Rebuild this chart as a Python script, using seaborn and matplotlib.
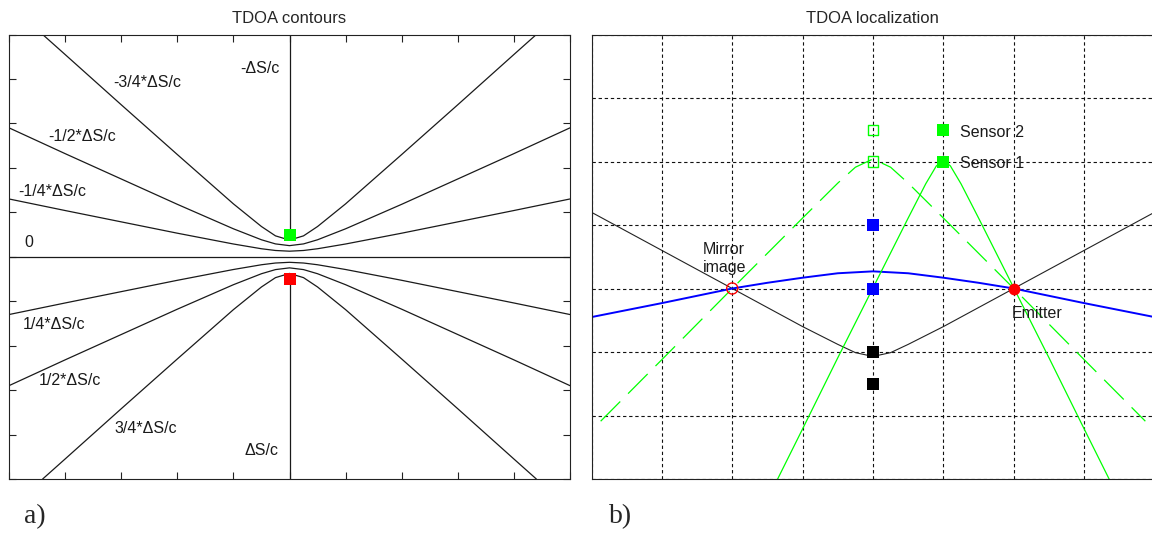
import numpy as np
import pandas as pd
import matplotlib
matplotlib.use("Agg")
from matplotlib import pyplot as plt
import seaborn as sns

# ---- panel a) TDOA contours (x, y in grid units) ----
xs_q = [-5, -4, -3, -2, -1, -0.5, -0.25, 0, 0.25, 0.5, 1, 2, 3, 4, 5]
y_quarter = [1.30, 1.04, 0.785, 0.53, 0.287, 0.18, 0.141, 0.125, 0.141, 0.18, 0.287, 0.53, 0.785, 1.04, 1.30]
y_half = [2.90, 2.32, 1.75, 1.18, 0.629, 0.382, 0.289, 0.25, 0.289, 0.382, 0.629, 1.18, 1.75, 2.32, 2.90]
xs_tq = [-4.4, -4, -3, -2, -1, -0.5, -0.25, 0, 0.25, 0.5, 1, 2, 3, 4, 4.4]
y_tq = [5.0, 4.55, 3.42, 2.30, 1.19, 0.68, 0.47, 0.375, 0.47, 0.68, 1.19, 2.30, 3.42, 4.55, 5.0]
y_quarter_lo = [-1.30, -1.04, -0.785, -0.53, -0.287, -0.18, -0.141, -0.125, -0.141, -0.18, -0.287, -0.53, -0.785, -1.04, -1.30]
y_half_lo = [-2.90, -2.32, -1.75, -1.18, -0.629, -0.382, -0.289, -0.25, -0.289, -0.382, -0.629, -1.18, -1.75, -2.32, -2.90]
y_tq_lo = [-5.0, -4.55, -3.42, -2.30, -1.19, -0.68, -0.47, -0.375, -0.47, -0.68, -1.19, -2.30, -3.42, -4.55, -5.0]
ray_up_y = [0.5, 5]
ray_dn_y = [-0.5, -5]
zero_x = [-5, 5]
sensor_a = (0, 0.5)
sensor_b = (0, -0.5)

contour_labels = ["-\u0394S/c", "-3/4*\u0394S/c", "-1/2*\u0394S/c", "-1/4*\u0394S/c", "0",
                  "1/4*\u0394S/c", "1/2*\u0394S/c", "3/4*\u0394S/c", "\u0394S/c"]
label_x = [-0.17, -3.15, -4.30, -4.83, -4.73, -4.76, -4.47, -3.12, -0.19]
label_y = [4.24, 3.91, 2.70, 1.46, 0.33, -1.52, -2.78, -3.87, -4.36]
label_ha = ["right", "left", "left", "left", "left", "left", "left", "left", "right"]

# ---- panel b) TDOA localization ----
black_x = [0, 1, 2, 3, 3.5, 3.75, 4, 4.25, 4.5, 5, 6, 7, 8]
black_y = [4.20, 3.60, 3.0, 2.40, 2.12, 1.99, 1.93, 1.99, 2.12, 2.40, 3.0, 3.60, 4.20]
blue_x = [0, 1, 2, 2.5, 3, 3.5, 4, 4.5, 5, 5.5, 6, 7, 8]
blue_y = [2.55, 2.77, 3.0, 3.09, 3.17, 3.24, 3.27, 3.24, 3.17, 3.09, 3.0, 2.77, 2.55]
green_x = [2.6, 3, 3.5, 4, 4.5, 4.75, 4.9, 5, 5.1, 5.25, 5.5, 6, 6.5, 7, 7.4]
green_y = [-0.10, 0.79, 1.91, 3.01, 4.11, 4.65, 4.93, 5.02, 4.93, 4.65, 4.11, 3.01, 1.91, 0.79, -0.10]
gdash_x = [0.13, 1, 2, 3, 3.5, 3.75, 4, 4.25, 4.5, 5, 6, 7, 7.87]
gdash_y = [0.91, 1.88, 3.0, 4.11, 4.66, 4.91, 5.04, 4.91, 4.66, 4.11, 3.0, 1.88, 0.91]

sensors_x = [5, 5]
sensors_y = [5.5, 5]
shifted_x = [4, 4]
shifted_y = [5.5, 5]
blue_sq_x = [4, 4]
blue_sq_y = [4, 3]
black_sq_x = [4, 4]
black_sq_y = [2, 1.5]
emitter = (6, 3)
mirror = (2, 3)

sns.set_style("white")
plt.rcParams["font.family"] = ["Liberation Sans", "DejaVu Sans"]
plt.rcParams["lines.scale_dashes"] = False
plt.rcParams["axes.edgecolor"] = "#222222"
plt.rcParams["axes.linewidth"] = 0.8

W, H = 1152, 533
fig = plt.figure(figsize=(W / 100, H / 100), dpi=100)
bot = (H - 479) / H
hgt = (479 - 34.5) / H
ax1 = fig.add_axes([9 / W, bot, 561 / W, hgt])
ax2 = fig.add_axes([591.5 / W, bot, 563 / W, hgt])

GREEN = "#00ff00"
INK = "#1a1a1a"
lw = 0.9
fs = 11.5

# panel a
for xx, yy in [(xs_q, y_quarter), (xs_q, y_half), (xs_tq, y_tq),
               (xs_q, y_quarter_lo), (xs_q, y_half_lo), (xs_tq, y_tq_lo)]:
    sns.lineplot(x=xx, y=yy, ax=ax1, color=INK, lw=lw, sort=False, estimator=None)
sns.lineplot(x=[0, 0], y=ray_up_y, ax=ax1, color=INK, lw=lw, sort=False, estimator=None)
sns.lineplot(x=[0, 0], y=ray_dn_y, ax=ax1, color=INK, lw=lw, sort=False, estimator=None)
sns.lineplot(x=zero_x, y=[0, 0], ax=ax1, color=INK, lw=lw, sort=False, estimator=None)
sns.scatterplot(x=[sensor_a[0]], y=[sensor_a[1]], ax=ax1, marker="s", s=64,
                color=GREEN, edgecolor=GREEN, linewidth=0, zorder=4)
sns.scatterplot(x=[sensor_b[0]], y=[sensor_b[1]], ax=ax1, marker="s", s=64,
                color="#ff0000", edgecolor="#ff0000", linewidth=0, zorder=4)
for t, x0, y0, ha in zip(contour_labels, label_x, label_y, label_ha):
    ax1.text(x0, y0, t, ha=ha, va="center", fontsize=fs, color=INK)

ax1.set_xlim(-5, 5)
ax1.set_ylim(-5, 5)
ax1.set_xticks(range(-5, 6))
ax1.set_yticks(range(-5, 6))
ax1.tick_params(direction="in", length=5, width=0.8, top=True, right=True,
                bottom=True, left=True, labelbottom=False, labelleft=False, color="#222222")
ax1.set_title("TDOA contours", fontsize=12, pad=8)

# panel b
ax2.set_axisbelow(True)
ax2.grid(True, color="#111111", linestyle=(0, (2.4, 2.0)), lw=0.8)
sns.lineplot(x=black_x, y=black_y, ax=ax2, color="#222222", lw=0.8, sort=False, estimator=None)
sns.lineplot(x=blue_x, y=blue_y, ax=ax2, color="#0000ff", lw=1.4, sort=False, estimator=None)
sns.lineplot(x=green_x, y=green_y, ax=ax2, color=GREEN, lw=0.9, sort=False, estimator=None)
sns.lineplot(x=gdash_x, y=gdash_y, ax=ax2, color=GREEN, lw=0.9, sort=False, estimator=None,
             linestyle=(0, (20, 8)))
sns.scatterplot(x=sensors_x, y=sensors_y, ax=ax2, marker="s", s=64,
                color=GREEN, edgecolor=GREEN, linewidth=0, zorder=4)
sns.scatterplot(x=shifted_x, y=shifted_y, ax=ax2, marker="s", s=56,
                color="none", edgecolor=GREEN, linewidth=1, zorder=4)
sns.scatterplot(x=blue_sq_x, y=blue_sq_y, ax=ax2, marker="s", s=64,
                color="#0000ff", edgecolor="#0000ff", linewidth=0, zorder=4)
sns.scatterplot(x=black_sq_x, y=black_sq_y, ax=ax2, marker="s", s=64,
                color="black", edgecolor="black", linewidth=0, zorder=4)
sns.scatterplot(x=[emitter[0]], y=[emitter[1]], ax=ax2, marker="o", s=72,
                color="#ff0000", edgecolor="#ff0000", linewidth=0, zorder=4)
sns.scatterplot(x=[mirror[0]], y=[mirror[1]], ax=ax2, marker="o", s=64,
                color="none", edgecolor="#ff0000", linewidth=1, zorder=4)

ax2.text(5.23, 5.45, "Sensor 2", ha="left", va="center", fontsize=fs, color=INK)
ax2.text(5.23, 4.97, "Sensor 1", ha="left", va="center", fontsize=fs, color=INK)
ax2.text(1.58, 3.47, "Mirror\nimage", ha="left", va="center", fontsize=fs,
         color=INK, linespacing=1.25)
ax2.text(5.97, 2.61, "Emitter", ha="left", va="center", fontsize=fs, color=INK)

ax2.set_xlim(0, 8)
ax2.set_ylim(0, 7)
ax2.set_xticks(range(0, 9))
ax2.set_yticks(range(0, 8))
ax2.tick_params(length=0, labelbottom=False, labelleft=False)
ax2.set_title("TDOA localization", fontsize=12, pad=8, x=(872 - 591.5) / 563)

fig.text(24 / W, 1 - 517 / H, "a)", fontsize=20, family="Liberation Serif", va="center")
fig.text(609 / W, 1 - 517 / H, "b)", fontsize=20, family="Liberation Serif", va="center")

fig.savefig("out.png", dpi=100, facecolor="white")
